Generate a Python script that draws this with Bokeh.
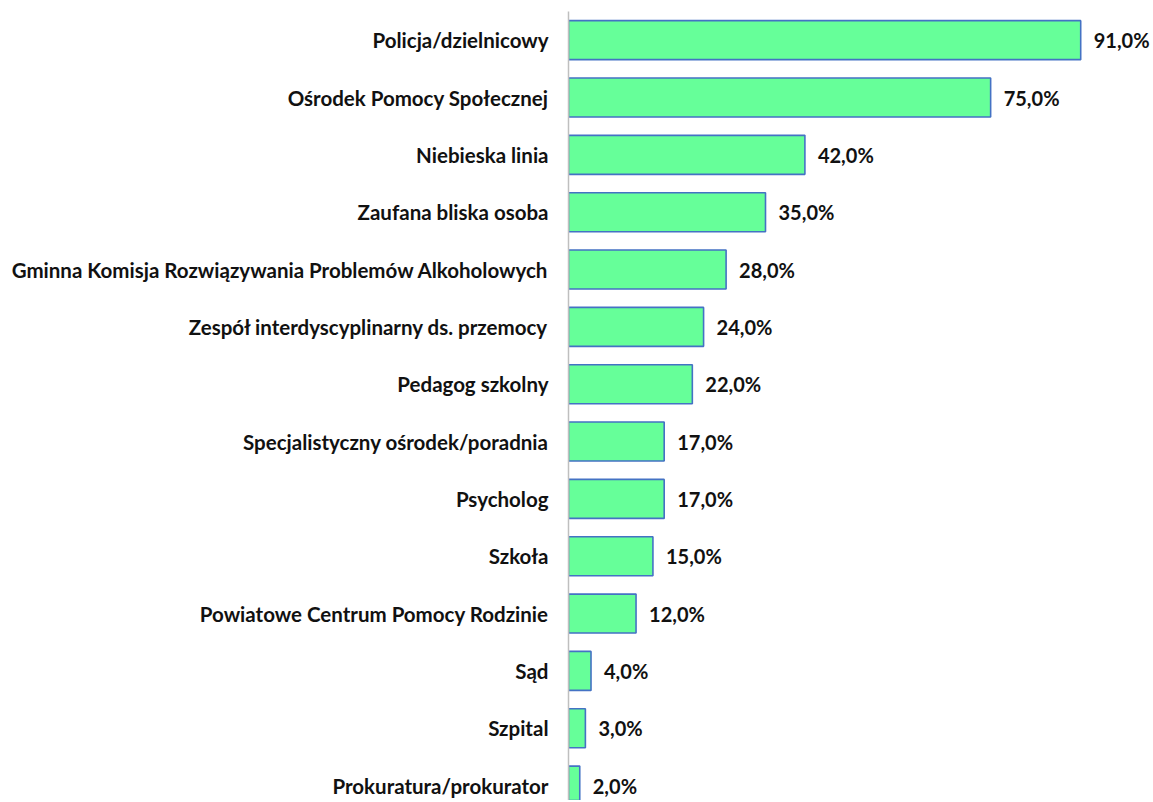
from bokeh.plotting import figure
from bokeh.models import ColumnDataSource, Range1d, FixedTicker
from bokeh.core.properties import value
from bokeh.embed import file_html
from bokeh.resources import INLINE

categories = [
    "Policja/dzielnicowy",
    "Ośrodek Pomocy Społecznej",
    "Niebieska linia",
    "Zaufana bliska osoba",
    "Gminna Komisja Rozwiązywania Problemów Alkoholowych",
    "Zespół interdyscyplinarny ds. przemocy",
    "Pedagog szkolny",
    "Specjalistyczny ośrodek/poradnia",
    "Psycholog",
    "Szkoła",
    "Powiatowe Centrum Pomocy Rodzinie",
    "Sąd",
    "Szpital",
    "Prokuratura/prokurator",
]
values = [91, 75, 42, 35, 28, 24, 22, 17, 17, 15, 12, 4, 3, 2]

pos = list(range(len(categories)))
labels = [f"{v:.1f}".replace(".", ",") + "%" for v in values]

src = ColumnDataSource(dict(y=pos, v=values, lab=labels))

FONT = "Lato"

p = figure(
    width=1150, height=800,
    x_range=Range1d(0, 103.4),
    y_range=Range1d(13.26, -0.5),
    output_backend="svg", toolbar_location=None,
    min_border_left=568, min_border_right=0,
    min_border_top=11, min_border_bottom=0,
)
p.outline_line_color = None
p.xgrid.visible = False
p.ygrid.visible = False
p.xaxis.visible = False
p.background_fill_color = "white"
p.border_fill_color = "white"

p.hbar(y="y", right="v", left=0, height=0.68, source=src,
       fill_color="#66FF99", line_color="#4472C4", line_width=1.6)

p.text(x="v", y="y", text="lab", source=src, x_offset=13,
       text_align="left", text_baseline="middle",
       text_font=value(FONT), text_font_style="bold",
       text_font_size="20px", text_color="#111111")

ax = p.yaxis[0]
ax.ticker = FixedTicker(ticks=pos)
ax.major_label_overrides = {i: c for i, c in zip(pos, categories)}
ax.major_tick_line_color = None
ax.minor_tick_line_color = None
ax.major_tick_out = 0
ax.major_tick_in = 0
ax.major_label_standoff = 20
ax.axis_line_color = "#BFBFBF"
ax.axis_line_width = 1.5
ax.major_label_text_font = FONT
ax.major_label_text_font_style = "bold"
ax.major_label_text_font_size = "20.5px"
ax.major_label_text_color = "#111111"

open("out.html", "w").write(file_html(p, INLINE))
